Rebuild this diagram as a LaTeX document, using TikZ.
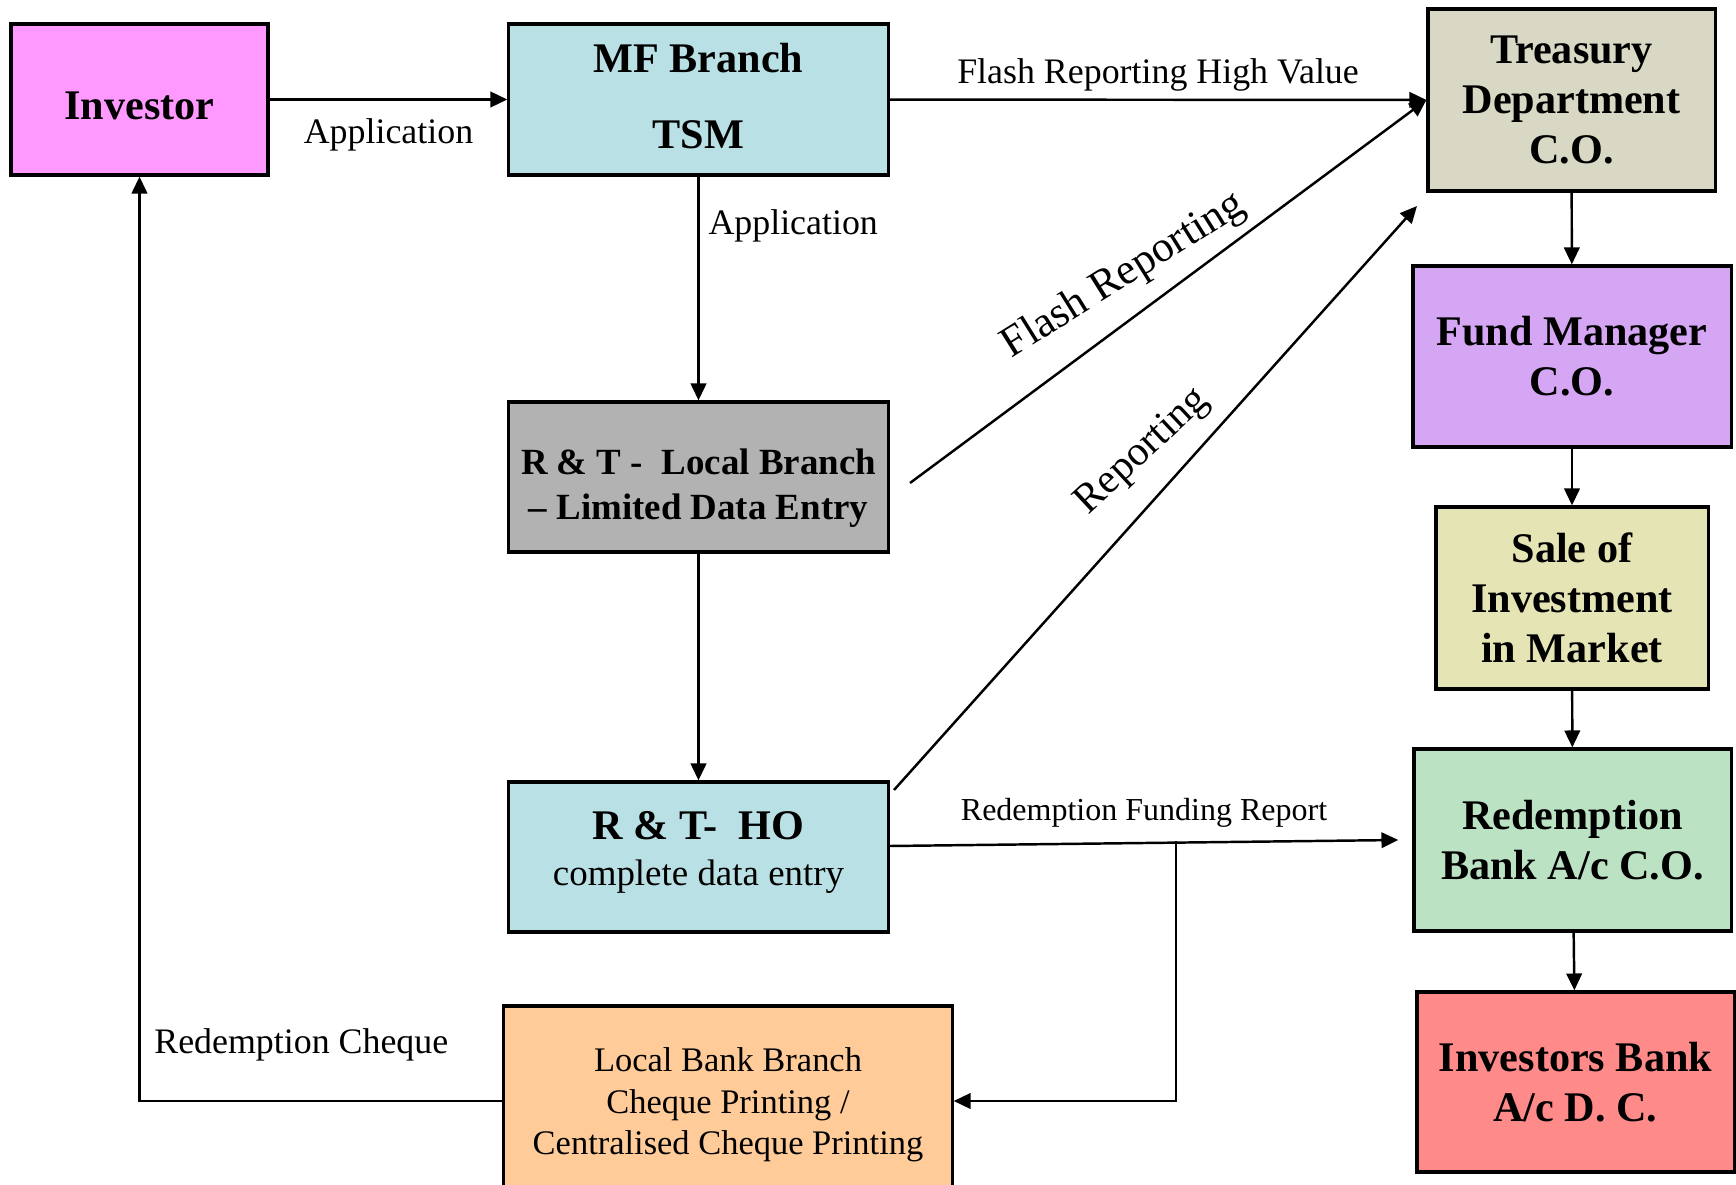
\documentclass[tikz,border=0pt]{standalone}
\usepackage{fontspec}
\setmainfont{Liberation Serif}
\usetikzlibrary{arrows.meta, calc}

\definecolor{investorPink}{HTML}{FF99FF}
\definecolor{mfBlue}{HTML}{B9E0E4}
\definecolor{treasuryGrey}{HTML}{D9D8C4}
\definecolor{fundLilac}{HTML}{D4A6F4}
\definecolor{saleKhaki}{HTML}{E5E4B5}
\definecolor{redeemGreen}{HTML}{BCE2C4}
\definecolor{invBankRed}{HTML}{FF8A8A}
\definecolor{rtGrey}{HTML}{B2B2B2}
\definecolor{chequePeach}{HTML}{FFCC99}

\begin{document}
\begin{tikzpicture}[
        >={Triangle[length=4.8pt, width=4.4pt]},
        x=0.01cm, y=-0.01cm,
        box/.style={draw, line width=0.9pt, align=center, inner sep=2pt,
            font=\fontsize{12}{14.2}\selectfont\bfseries},
        flow/.style={->, line width=0.7pt},
        lbl/.style={font=\fontsize{10.2}{12}\selectfont, inner sep=1pt}
    ]

        % === FRAME (units are pixels of the page) ===
        \useasboundingbox (0,0) rectangle (1736,1185);
        \clip (0,0) rectangle (1736,1185);

        % === 1. LEFT / CENTRE BOXES ===
        % (the zero-width rules just nudge the text up or down in its box)
        \node[box, fill=investorPink, minimum width=2.57cm, minimum height=1.51cm]
            (Investor) at (139.5,99.5) {\rule{0pt}{11.7pt}Investor};
        \node[box, fill=mfBlue, minimum width=3.79cm, minimum height=1.51cm]
            (MFBranch) at (698.5,99.5) {MF Branch\\[7.5pt]TSM\rule[-2.2pt]{0pt}{0pt}};
        \node[box, fill=rtGrey, minimum width=3.79cm, minimum height=1.50cm,
              font=\fontsize{10.5}{12.8}\selectfont\bfseries]
            (RTLocal) at (698.5,477) {\rule{0pt}{13.4pt}R \& T -\ \ Local Branch\\-- Limited Data Entry};
        \node[box, fill=mfBlue, minimum width=3.79cm, minimum height=1.50cm,
              font=\fontsize{10.5}{12.6}\selectfont]
            (RTHO) at (698.5,857) {{\fontsize{12}{14}\selectfont\bfseries R \& T-\ \ HO}\\[0.6pt]complete data entry\rule[-4.8pt]{0pt}{0pt}};
        \node[box, fill=chequePeach, minimum width=4.48cm, minimum height=1.90cm,
              font=\fontsize{9.8}{11.8}\selectfont]
            (LocalBank) at (728,1101) {\rule{0pt}{9.2pt}Local Bank Branch\\Cheque Printing /\\Centralised Cheque Printing};

        % === 2. RIGHT COLUMN ===
        \node[box, fill=treasuryGrey, minimum width=2.87cm, minimum height=1.82cm]
            (Treasury) at (1571.5,100) {Treasury\\Department\\C.O.};
        \node[box, fill=fundLilac, minimum width=3.18cm, minimum height=1.81cm]
            (FundMgr) at (1572,356.5) {Fund Manager\\C.O.};
        \node[box, fill=saleKhaki, minimum width=2.72cm, minimum height=1.82cm]
            (SaleInv) at (1572,598) {Sale of\\Investment\\in Market};
        \node[box, fill=redeemGreen, minimum width=3.17cm, minimum height=1.82cm]
            (RedeemBank) at (1572.5,840) {Redemption\\Bank A/c C.O.};
        \node[box, fill=invBankRed, minimum width=3.17cm, minimum height=1.80cm]
            (InvBank) at (1575.5,1082) {Investors Bank\\A/c D. C.};

        % loose ends of the slanted / offset arrows
        \coordinate (FlashStart) at (910,483);
        \coordinate (RepStart) at (894,790);
        \coordinate (RepEnd) at (1417,206);
        \coordinate (FundStart) at ($(RTHO.east)+(0,-11)$);
        \coordinate (FundEnd) at ($(RedeemBank.west)+(-14,0)$);
        \coordinate (FundSplit) at (1176,841);

        % === 3. APPLICATION FLOW ===
        \draw[flow] (Investor) -- node[lbl, below=4pt] {Application} (MFBranch);
        \draw[flow] (MFBranch) -- node[lbl, pos=0.22, right=1.5pt] {Application} (RTLocal);
        \draw[flow] (RTLocal) -- (RTHO);

        % === 4. REPORTING TO TREASURY ===
        \draw[flow] (MFBranch) -- node[lbl, above=1pt] {Flash Reporting High Value} (Treasury);
        \draw[flow] (FlashStart) -- (Treasury.west);
        \node[lbl, font=\fontsize{12.3}{14}\selectfont, rotate=32] (FlashLbl) at (1124,276) {Flash Reporting};
        \draw[flow] (RepStart) -- (RepEnd);
        \node[lbl, font=\fontsize{11.8}{14}\selectfont, rotate=43] (RepLbl) at (1143,452) {Reporting};

        % === 5. REDEMPTION FLOW ===
        \draw[flow] (FundStart) -- node[lbl, above=3pt, font=\fontsize{9.1}{11}\selectfont] {Redemption Funding Report} (FundEnd);
        \draw[flow] (FundSplit) |- (LocalBank.east);
        \draw[flow] (LocalBank.west) -| node[lbl, pos=0.277, above=10pt] {Redemption Cheque} (Investor.south);

        % right column, top to bottom
        \draw[flow] (Treasury) -- (FundMgr);
        \draw[flow] (FundMgr) -- (SaleInv);
        \draw[flow] (SaleInv) -- (RedeemBank);
        \draw[flow] (RedeemBank) -- (InvBank);

    \end{tikzpicture}
\end{document}
